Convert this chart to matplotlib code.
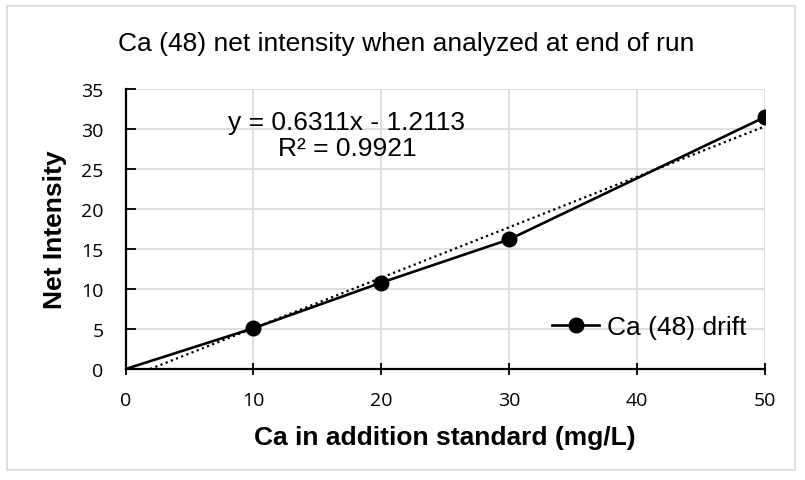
import matplotlib.pyplot as plt
from matplotlib.patches import Rectangle
import numpy as np

plt.rcParams['font.family'] = ['Liberation Sans', 'DejaVu Sans']

# Data
conc = [0, 10, 20, 30, 50]
intensity = [0, 5.1, 10.8, 16.2, 31.5]
slope = 0.6311
intercept = -1.2113
r2 = 0.9921

W, H = 805, 481
fig = plt.figure(figsize=(W / 100, H / 100), dpi=100)
ax = fig.add_axes([125.6 / W, 1 - 370 / H, (765 - 125.6) / W, 280 / H])

# chart border
fig.patches.append(Rectangle((7 / W, 1 - 471 / H), 788 / W, 464 / H, transform=fig.transFigure,
                             fill=False, edgecolor='#d9d9d9', linewidth=1.2))

# trendline, clipped at y = 0
x0 = -intercept / slope
xt = np.array([x0, 50])
ax.plot(xt, slope * xt + intercept, color='black', linestyle=(0, (1, 1.5)), linewidth=1.6,
        zorder=3)

# series
ax.plot(conc, intensity, color='black', linewidth=1.9, marker='o', markersize=10.5,
        markevery=list(range(1, len(conc))), label='Ca (48) drift', zorder=4)

ax.set_xlim(0, 50)
ax.set_ylim(0, 35)
ax.set_xticks(range(0, 51, 10))
ax.set_yticks(range(0, 36, 5))
ax.grid(True, color='#d9d9d9', linewidth=1.2)
ax.set_axisbelow(True)
for s in ['top', 'right']:
    ax.spines[s].set_visible(False)
for s in ['left', 'bottom']:
    ax.spines[s].set_linewidth(1.6)
ax.tick_params(axis='x', direction='inout', length=9, width=1.3, pad=11)
ax.tick_params(axis='y', direction='in', length=7, width=1.3, pad=16)
for lab in ax.get_xticklabels() + ax.get_yticklabels():
    lab.set_fontfamily(['Open Sans', 'DejaVu Sans'])
    lab.set_fontsize(14)

ax.set_xlabel('Ca in addition standard (mg/L)', fontsize=19, fontweight='bold')
ax.xaxis.set_label_coords(0.5, -0.2)
ax.set_ylabel('Net Intensity', fontsize=19, fontweight='bold')
ax.yaxis.set_label_coords(-0.0917, 0.5)
fig.text(406 / W, 1 - 44 / H, 'Ca (48) net intensity when analyzed at end of run',
         ha='center', va='center', fontsize=19)

ax.text(17.3, 29.25, f'y = {slope}x - {abs(intercept)}\nR² = {r2}', ha='center', va='center',
        fontsize=19, linespacing=1.15)

ax.legend(loc='center left', bbox_to_anchor=((552 - 125.6) / 639.4, (370 - 328) / 280),
          frameon=False, fontsize=19, handlelength=1.8, handletextpad=0.3,
          borderpad=0, borderaxespad=0)

fig.savefig('out.png', dpi=100)
